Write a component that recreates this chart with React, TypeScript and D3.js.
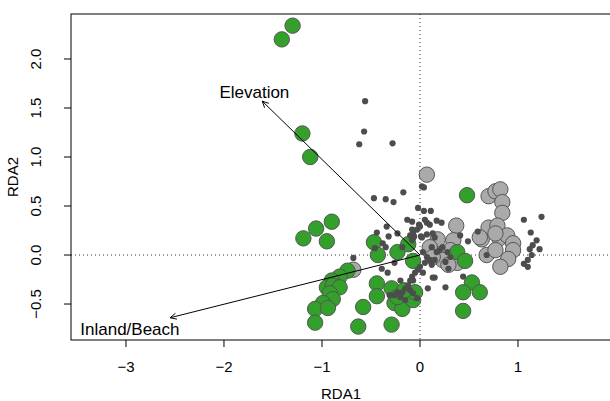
import React from 'react';
import * as d3 from 'd3';

// size of the picture and the plot box
const width = 610;
const height = 401;
const box = { left: 71, top: 14, right: 611, bottom: 340 };

// site scores (RDA1, RDA2)
const greenSites: [number, number][] = [
  [-1.30, 2.34], [-1.41, 2.20], [-1.20, 1.24], [-1.12, 1.00], [-0.90, 0.34], [-1.06, 0.27],
  [-1.19, 0.17], [-0.95, 0.14], [0.48, 0.61], [-0.47, 0.13], [-0.43, 0.00], [-0.23, 0.03],
  [-0.12, 0.11], [-0.07, -0.06], [0.38, 0.03], [0.46, -0.06], [-0.74, -0.16], [-0.82, -0.22],
  [-0.90, -0.26], [-0.95, -0.33], [-0.89, -0.31], [-0.82, -0.33], [-0.92, -0.39], [-0.89, -0.45],
  [-0.99, -0.49], [-1.07, -0.55], [-0.94, -0.54], [-1.07, -0.69], [-0.58, -0.53], [-0.63, -0.73],
  [-0.29, -0.71], [-0.44, -0.29], [-0.44, -0.42], [-0.29, -0.34], [-0.26, -0.49], [-0.18, -0.55],
  [-0.07, -0.46], [-0.05, -0.38], [0.53, -0.28], [0.44, -0.38], [0.61, -0.38], [0.44, -0.57],
  [-0.23, -0.43], [-0.16, -0.36],
];

const greySites: [number, number][] = [
  [0.07, 0.82], [0.70, 0.60], [0.77, 0.65], [0.82, 0.67], [0.84, 0.54], [0.84, 0.43],
  [0.37, 0.30], [0.70, 0.28], [0.79, 0.30], [0.63, 0.16], [0.81, 0.17], [0.89, 0.20],
  [0.95, 0.12], [0.95, 0.05], [0.90, -0.04], [0.82, -0.12], [0.68, 0.00], [0.77, 0.05],
  [0.77, 0.22], [0.18, 0.16], [0.10, 0.08], [0.34, 0.15], [0.31, 0.05], [0.23, -0.05],
  [0.38, -0.08], [0.13, -0.02], [0.61, 0.18], [-0.68, -0.15], [0.29, -0.10],
];

// species scores
const species: [number, number][] = [
  [-0.56, 1.57], [-0.57, 1.26], [-0.62, 1.13], [-0.28, 1.14], [0.02, 0.70], [0.04, 0.69],
  [-0.17, 0.64], [-0.47, 0.58], [-0.35, 0.57], [-0.27, 0.54], [-0.02, 0.48], [0.04, 0.45],
  [0.11, 0.45], [-0.13, 0.36], [-0.08, 0.34], [-0.01, 0.31], [0.05, 0.36], [0.10, 0.31],
  [0.17, 0.35], [0.22, 0.33], [-0.34, 0.29], [1.06, 0.36], [1.24, 0.39], [1.13, 0.23],
  [1.19, 0.15], [1.15, 0.10], [1.12, 0.06], [1.22, 0.06], [1.14, 0.00], [1.10, -0.05],
  [1.06, -0.09], [1.10, -0.12], [-0.32, 0.19], [-0.44, 0.23], [-0.07, 0.23], [-0.06, 0.19],
  [0.01, 0.19], [0.07, 0.21], [0.13, 0.22], [0.02, 0.18], [0.59, 0.24], [0.41, 0.20],
  [0.49, 0.14], [0.68, 0.00], [0.20, 0.05], [0.28, 0.03], [0.15, -0.05], [0.29, -0.14],
  [0.44, -0.22], [-0.38, 0.12], [-0.35, 0.08], [-0.46, 0.07], [-0.23, 0.22], [-0.18, 0.08],
  [-0.10, 0.20], [-0.08, 0.15], [-0.03, 0.26], [0.03, 0.03], [0.07, -0.02], [0.10, -0.05],
  [0.05, -0.08], [0.00, -0.12], [-0.02, -0.15], [-0.05, -0.18], [-0.08, -0.22], [-0.10, -0.26],
  [-0.12, -0.31], [-0.15, -0.34], [-0.18, -0.38], [-0.26, -0.41], [-0.20, -0.43], [-0.10, -0.36],
  [-0.07, -0.39], [-0.03, -0.44], [-0.15, -0.46], [-0.23, -0.38], [-0.31, -0.41], [0.15, -0.23],
  [0.08, -0.34], [0.26, -0.33], [-0.39, -0.14], [-0.33, -0.18], [-0.26, -0.08], [-0.68, -0.03],
  [0.12, 0.08], [0.17, 0.03], [0.23, 0.08], [0.26, -0.07], [0.31, -0.02], [-0.20, -0.26],
  [-0.07, -0.26], [0.03, -0.18], [0.12, -0.10], [0.13, -0.23], [0.07, 0.33], [0.00, 0.29],
  [0.15, 0.18], [-0.07, 0.17], [-0.08, 0.26],
];

// environmental arrows and where their labels sit
const arrowNames = ['Elevation', 'Inland/Beach'];
const arrowEnds: [number, number][] = [[-1.61, 1.57], [-2.55, -0.64]];
const labelPos: [number, number][] = [[-1.69, 1.66], [-2.96, -0.76]];

const xTicks = [-3, -2, -1, 0, 1];
const yTicks = [-0.5, 0, 0.5, 1, 1.5, 2];

const font = '"Liberation Sans", Arial, sans-serif';

export default function App() {
  const x = d3.scaleLinear().domain([-3.561, 1.949]).range([box.left, box.right]);
  const y = d3.scaleLinear().domain([-0.867, 2.459]).range([box.bottom, box.top]);
  const fmtX = d3.format('d');
  const fmtY = d3.format('.1f');

  // open arrow head like R's arrows()
  const head = (x1: number, y1: number, x2: number, y2: number) => {
    const a = Math.atan2(y2 - y1, x2 - x1);
    const len = 7;
    const s = Math.PI / 7;
    const p1 = [x2 - len * Math.cos(a - s), y2 - len * Math.sin(a - s)];
    const p2 = [x2 - len * Math.cos(a + s), y2 - len * Math.sin(a + s)];
    return `M${p1[0]},${p1[1]}L${x2},${y2}L${p2[0]},${p2[1]}`;
  };

  return (
    <svg width={width} height={height} style={{ position: 'absolute', left: 0, top: 0, background: '#fff' }}
      fontFamily={font}>
      <defs>
        <clipPath id="plot">
          <rect x={box.left} y={box.top} width={box.right - box.left} height={box.bottom - box.top} />
        </clipPath>
      </defs>

      {/* reference lines through the origin */}
      <line x1={box.left} x2={box.right} y1={y(0)} y2={y(0)} stroke="#333" strokeDasharray="1,3" />
      <line x1={x(0)} x2={x(0)} y1={box.top} y2={box.bottom} stroke="#333" strokeDasharray="1,3" />

      <g clipPath="url(#plot)">
        {greySites.map((d, i) => (
          <circle key={'g' + i} cx={x(d[0])} cy={y(d[1])} r={7.7} fill="#aaaaaa" stroke="#555" strokeWidth={1} />
        ))}
        {greenSites.map((d, i) => (
          <circle key={'s' + i} cx={x(d[0])} cy={y(d[1])} r={7.7} fill="#33a02c" stroke="#555" strokeWidth={1} />
        ))}
        {species.map((d, i) => (
          <circle key={'p' + i} cx={x(d[0])} cy={y(d[1])} r={3.1} fill="#4d4d4d" />
        ))}
        {arrowEnds.map((d, i) => (
          <g key={'a' + i} stroke="#000" strokeWidth={1} fill="none">
            <line x1={x(0)} y1={y(0)} x2={x(d[0])} y2={y(d[1])} />
            <path d={head(x(0), y(0), x(d[0]), y(d[1]))} />
          </g>
        ))}
      </g>

      {arrowNames.map((name, i) => (
        <text key={name} x={x(labelPos[i][0])} y={y(labelPos[i][1])} textAnchor="middle" dy="0.35em"
          fontSize={17} fill="#000">{name}</text>
      ))}

      {/* box (right side falls outside the picture) */}
      <rect x={box.left} y={box.top} width={box.right - box.left} height={box.bottom - box.top}
        fill="none" stroke="#000" strokeWidth={1} />

      {/* x axis */}
      {xTicks.map(t => (
        <g key={'xt' + t}>
          <line x1={x(t)} x2={x(t)} y1={box.bottom} y2={box.bottom + 7} stroke="#000" />
          <text x={x(t)} y={367} textAnchor="middle" dy="0.35em" fontSize={15}>{fmtX(t)}</text>
        </g>
      ))}
      <text x={(box.left + box.right) / 2} y={399} textAnchor="middle" fontSize={15}>RDA1</text>

      {/* y axis */}
      {yTicks.map(t => (
        <g key={'yt' + t}>
          <line x1={box.left - 7} x2={box.left} y1={y(t)} y2={y(t)} stroke="#000" />
          <text transform={`translate(36,${y(t)}) rotate(-90)`} textAnchor="middle" dy="0.35em" fontSize={15}>
            {fmtY(t)}
          </text>
        </g>
      ))}
      <text transform={`translate(13,${(box.top + box.bottom) / 2}) rotate(-90)`} textAnchor="middle" dy="0.35em"
        fontSize={15}>RDA2</text>
    </svg>
  );
}
